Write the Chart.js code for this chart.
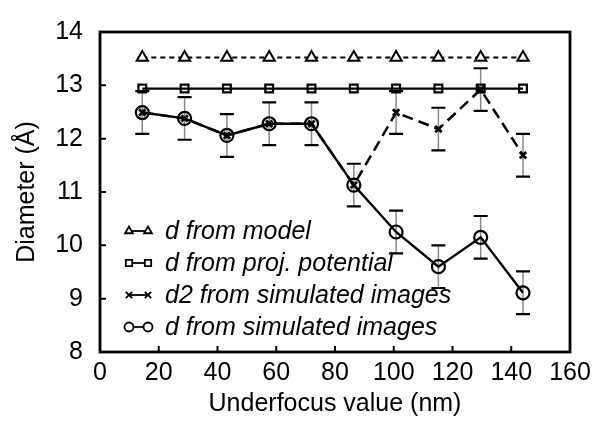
<!DOCTYPE html>
<html>
<head>
<meta charset="utf-8">
<script src="https://cdn.jsdelivr.net/npm/chart.js@4/dist/chart.umd.min.js"></script>
<style>
  html, body { margin: 0; padding: 0; background: #fff; }
  #wrap { width: 606px; height: 426px; }
</style>
</head>
<body>
<div id="wrap"><canvas id="diam" width="606" height="426"></canvas></div>
<script>
// underfocus steps (nm)
var underfocus = [14.4, 28.8, 43.2, 57.6, 72, 86.4, 100.8, 115.2, 129.6, 144];

// diameters in angstrom
var dModel = [13.52, 13.52, 13.52, 13.52, 13.52, 13.52, 13.52, 13.52, 13.52, 13.52];
var dProj = [12.94, 12.94, 12.94, 12.94, 12.94, 12.94, 12.94, 12.94, 12.94, 12.94];
var d2Sim = [12.49, 12.38, 12.06, 12.28, 12.28, 11.13, 12.49, 12.18, 12.92, 11.69];
var dSim = [12.49, 12.38, 12.06, 12.28, 12.28, 11.13, 10.25, 9.60, 10.15, 9.11];

// error bars (+/-)
var errD2 = [null, null, null, null, null, null, 0.4, 0.4, 0.4, 0.4];
var errD = [0.4, 0.4, 0.4, 0.4, 0.4, 0.4, 0.4, 0.4, 0.4, 0.4];

var xTicks = [0, 20, 40, 60, 80, 100, 120, 140, 160];
var yTicks = [8, 9, 10, 11, 12, 13, 14];

var seriesNames = ['d from model', 'd from proj. potential', 'd2 from simulated images', 'd from simulated images'];

function pts(ys) {
    return underfocus.map(function (x, i) { return { x: x, y: ys[i] }; });
}

var FONT = '"Liberation Sans", Arial, Helvetica, sans-serif';

// error bars: gray stem, black caps
var errorBars = {
    id: 'errorBars',
    beforeDatasetsDraw: function (chart) {
        var ctx = chart.ctx;
        var xs = chart.scales.x, ys = chart.scales.y;
        var sets = [[d2Sim, errD2], [dSim, errD]];
        ctx.save();
        sets.forEach(function (s) {
            var vals = s[0], errs = s[1];
            vals.forEach(function (v, i) {
                if (errs[i] == null) return;
                var px = xs.getPixelForValue(underfocus[i]);
                var top = ys.getPixelForValue(v + errs[i]);
                var bot = ys.getPixelForValue(v - errs[i]);
                ctx.strokeStyle = '#8a8a8a';
                ctx.lineWidth = 1.5;
                ctx.beginPath();
                ctx.moveTo(px, top);
                ctx.lineTo(px, bot);
                ctx.stroke();
                ctx.strokeStyle = '#000';
                ctx.lineWidth = 2.2;
                ctx.beginPath();
                ctx.moveTo(px - 7, top); ctx.lineTo(px + 7, top);
                ctx.moveTo(px - 7, bot); ctx.lineTo(px + 7, bot);
                ctx.stroke();
            });
        });
        ctx.restore();
    }
};

// box frame with inward ticks
var frame = {
    id: 'frame',
    afterDraw: function (chart) {
        var ctx = chart.ctx, a = chart.chartArea;
        var xs = chart.scales.x, ys = chart.scales.y;
        ctx.save();
        ctx.strokeStyle = '#000';
        ctx.lineWidth = 2;
        ctx.beginPath();
        xTicks.slice(1, -1).forEach(function (t) {
            var px = xs.getPixelForValue(t);
            ctx.moveTo(px, a.bottom);
            ctx.lineTo(px, a.bottom - 6);
        });
        yTicks.slice(1, -1).forEach(function (t) {
            var py = ys.getPixelForValue(t);
            ctx.moveTo(a.left, py);
            ctx.lineTo(a.left + 6, py);
        });
        ctx.stroke();
        ctx.lineWidth = 2.8;
        ctx.strokeRect(a.left, a.top, a.right - a.left, a.bottom - a.top);
        ctx.restore();
    }
};

// legend inside the plot, lower left
var insideLegend = {
    id: 'insideLegend',
    afterDatasetsDraw: function (chart) {
        var ctx = chart.ctx;
        var x0 = 129, x1 = 148, tx = 165, y0 = 231, step = 32;
        ctx.save();
        chart.data.datasets.forEach(function (ds, i) {
            var y = y0 + i * step;
            ctx.strokeStyle = '#000';
            ctx.fillStyle = '#fff';
            ctx.lineWidth = 1.8;
            ctx.setLineDash([]);
            ctx.beginPath();
            ctx.moveTo(x0, y);
            ctx.lineTo(x1, y);
            ctx.stroke();
            [x0, x1].forEach(function (px) {
                Chart.helpers.drawPoint(ctx, {
                    pointStyle: ds.pointStyle, radius: 4.5, rotation: 0, borderWidth: 1.8
                }, px, y);
            });
            ctx.fillStyle = '#000';
            ctx.font = 'italic 25px ' + FONT;
            ctx.textAlign = 'left';
            ctx.textBaseline = 'middle';
            ctx.fillText(ds.label, tx, y + 1);
        });
        ctx.restore();
    }
};

var ctx = document.getElementById('diam');

var diamChart = new Chart(ctx, {
    type: 'line',
    data: {
        datasets: [{
            label: seriesNames[0],
            data: pts(dModel),
            borderColor: '#000',
            borderWidth: 2,
            borderDash: [5, 4],
            pointStyle: 'triangle',
            pointRadius: 6.5,
            pointBorderWidth: 2,
            pointBackgroundColor: '#fff',
            pointBorderColor: '#000'
        }, {
            label: seriesNames[1],
            data: pts(dProj),
            borderColor: '#000',
            borderWidth: 2.2,
            pointStyle: 'rect',
            pointRadius: 5.5,
            pointBorderWidth: 2.2,
            pointBackgroundColor: 'rgba(0,0,0,0)',
            pointBorderColor: '#000'
        }, {
            label: seriesNames[2],
            data: pts(d2Sim),
            borderColor: '#000',
            borderWidth: 2.5,
            borderDash: [11, 6],
            pointStyle: 'crossRot',
            pointRadius: 4.5,
            pointBorderWidth: 2.8,
            pointBorderColor: '#000'
        }, {
            label: seriesNames[3],
            data: pts(dSim),
            borderColor: '#000',
            borderWidth: 2.4,
            pointStyle: 'circle',
            pointRadius: 6.5,
            pointBorderWidth: 2.2,
            pointBackgroundColor: 'rgba(0,0,0,0)',
            pointBorderColor: '#000'
        }]
    },
    options: {
        responsive: false,
        animation: false,
        layout: { padding: { top: 14, right: 36, left: 0, bottom: 0 } },
        plugins: {
            legend: { display: false },
            tooltip: { enabled: false }
        },
        scales: {
            x: {
                type: 'linear',
                min: 0,
                max: 160,
                afterBuildTicks: function (s) { s.ticks = xTicks.map(function (v) { return { value: v }; }); },
                afterFit: function (s) { s.height = 74; },
                grid: { display: false, drawTicks: false },
                border: { display: false },
                ticks: { color: '#000', padding: 6, maxRotation: 0, font: { family: FONT, size: 25 } },
                title: {
                    display: true,
                    text: 'Underfocus value (nm)',
                    color: '#000',
                    padding: { top: 0, bottom: 7 },
                    font: { family: FONT, size: 25 }
                }
            },
            y: {
                min: 8,
                max: 14,
                afterBuildTicks: function (s) { s.ticks = yTicks.map(function (v) { return { value: v }; }); },
                afterFit: function (s) { s.width = 100; },
                grid: { display: false, drawTicks: false },
                border: { display: false },
                ticks: { color: '#000', padding: 17, font: { family: FONT, size: 25 } },
                title: {
                    display: true,
                    text: 'Diameter (Å)',
                    color: '#000',
                    padding: { top: 12, bottom: 0 },
                    font: { family: FONT, size: 25 }
                }
            }
        }
    },
    plugins: [errorBars, frame, insideLegend]
});
</script>
</body>
</html>
